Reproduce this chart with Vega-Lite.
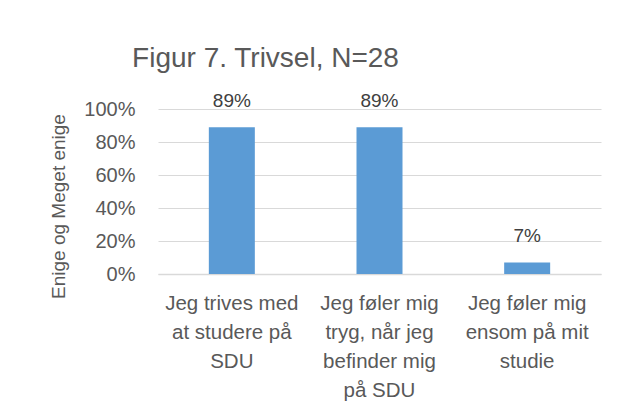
{
  "$schema": "https://vega.github.io/schema/vega-lite/v6.json",
  "width": 443,
  "height": 165,
  "autosize": {"type": "none"},
  "padding": {"left": 158, "top": 109, "right": 25, "bottom": 145},
  "background": "white",
  "config": {
    "view": {"stroke": null},
    "font": "Liberation Sans"
  },
  "title": {
    "text": "Figur 7. Trivsel, N=28",
    "font": "Liberation Sans",
    "fontSize": 28,
    "fontWeight": "normal",
    "color": "#595959",
    "anchor": "middle",
    "frame": "group",
    "baseline": "alphabetic",
    "dx": -114,
    "dy": 29,
    "offset": 26
  },
  "data": {
    "values": [
      {"spm": "Jeg trives med|at studere på|SDU", "andel": 0.89, "tekst": "89%"},
      {"spm": "Jeg føler mig|tryg, når jeg|befinder mig|på SDU", "andel": 0.89, "tekst": "89%"},
      {"spm": "Jeg føler mig|ensom på mit|studie", "andel": 0.07, "tekst": "7%"}
    ]
  },
  "encoding": {
    "x": {
      "field": "spm",
      "type": "nominal",
      "sort": null,
      "scale": {"paddingInner": 0, "paddingOuter": 0},
      "axis": {
        "title": null,
        "labelAngle": 0,
        "labelExpr": "split(datum.label, '|')",
        "labelFont": "Liberation Sans",
        "labelFontSize": 20.5,
        "labelLineHeight": 29,
        "labelColor": "#595959",
        "labelPadding": 19,
        "labelLimit": 200,
        "ticks": false,
        "domainColor": "#d9d9d9",
        "domainWidth": 1.5
      }
    },
    "y": {
      "field": "andel",
      "type": "quantitative",
      "scale": {"domain": [0, 1]},
      "axis": {
        "title": "Enige og Meget enige",
        "titleFont": "Liberation Sans",
        "titleFontSize": 19,
        "titleFontWeight": "normal",
        "titleColor": "#595959",
        "titleY": 97,
        "titlePadding": 15,
        "format": ".0%",
        "values": [0, 0.2, 0.4, 0.6, 0.8, 1],
        "labelFont": "Liberation Sans",
        "labelFontSize": 20,
        "labelColor": "#595959",
        "labelPadding": 23,
        "ticks": false,
        "domain": false,
        "gridColor": "#d9d9d9",
        "gridWidth": 1.2
      }
    }
  },
  "layer": [
    {
      "mark": {"type": "bar", "color": "#5B9BD5", "size": 46}
    },
    {
      "mark": {
        "type": "text",
        "baseline": "alphabetic",
        "dy": -20,
        "font": "Liberation Sans",
        "fontSize": 19,
        "color": "#404040"
      },
      "encoding": {"text": {"field": "tekst"}}
    }
  ]
}
